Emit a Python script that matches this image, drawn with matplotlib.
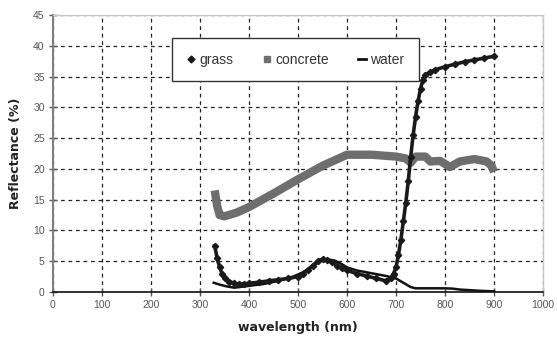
import matplotlib
matplotlib.use("Agg")
import matplotlib.pyplot as plt
from matplotlib.lines import Line2D

# ---- data ----
grass_wl = [330, 335, 340, 345, 350, 360, 370, 380, 390, 400, 420, 440, 460, 480, 500,
            510, 520, 530, 540, 550, 560, 570, 580, 590, 600, 620, 640, 660, 680, 690,
            695, 700, 705, 710, 715, 720, 725, 730, 735, 740, 745, 750, 755, 760, 770,
            780, 800, 820, 840, 860, 880, 900]
grass_val = [7.5, 5.5, 4.0, 3.0, 2.3, 1.7, 1.4, 1.3, 1.3, 1.4, 1.6, 1.8, 2.0, 2.2, 2.5,
             3.0, 3.6, 4.3, 5.0, 5.3, 5.2, 4.8, 4.3, 3.9, 3.5, 3.0, 2.6, 2.2, 1.8, 2.3,
             3.0, 4.0, 6.0, 8.5, 11.5, 14.5, 18.0, 22.0, 25.5, 28.5, 31.0, 33.0, 34.5, 35.3, 35.7,
             36.1, 36.6, 37.0, 37.4, 37.7, 38.0, 38.3]

concrete_wl = [330, 335, 340, 350, 375, 400, 450, 500, 550, 600, 650, 700, 720, 730,
               740, 760, 770, 790, 810, 830, 860, 885, 895, 900]
concrete_val = [16.5, 14.0, 12.5, 12.3, 12.9, 13.8, 16.0, 18.3, 20.5, 22.3, 22.3, 22.0, 21.7, 21.0,
                22.0, 22.0, 21.2, 21.3, 20.3, 21.2, 21.6, 21.2, 20.5, 19.5]

water_wl = [328, 340, 355, 370, 400, 430, 460, 490, 510, 530, 545, 560, 575, 590, 600,
            620, 640, 660, 680, 700, 715, 730, 740, 760, 800, 815, 830, 850, 870, 900]
water_val = [1.5, 1.2, 0.9, 0.7, 1.0, 1.3, 1.8, 2.5, 3.2, 4.2, 5.0, 5.3, 5.1, 4.5, 4.0,
             3.5, 3.2, 2.9, 2.6, 2.2, 1.5, 0.8, 0.6, 0.6, 0.6, 0.55, 0.4, 0.3, 0.2, 0.1]

x_ticks = [0, 100, 200, 300, 400, 500, 600, 700, 800, 900, 1000]
y_ticks = [0, 5, 10, 15, 20, 25, 30, 35, 40, 45]
series_names = ["grass", "concrete", "water"]

# ---- figure ----
plt.rcParams['font.family'] = ['Liberation Sans', 'DejaVu Sans']
fig = plt.figure(figsize=(5.57, 3.37), dpi=100)
ax = fig.add_axes([53/557, 1 - 292/337, 490/557, 277/337])

ax.plot(concrete_wl, concrete_val, color='#6e6e6e', lw=6, solid_capstyle='butt', zorder=3)
ax.plot(water_wl, water_val, color='#111111', lw=1.8, zorder=4)
ax.plot(grass_wl, grass_val, color='#1a1a1a', lw=2.6, marker='D', markersize=3.2,
        markerfacecolor='#1a1a1a', markeredgecolor='#1a1a1a', zorder=5)

ax.set_xlim(0, 1000)
ax.set_ylim(0, 45)
ax.set_xticks(x_ticks)
ax.set_yticks(y_ticks)
ax.tick_params(direction='inout', length=6, width=1, color='#555555',
               labelsize=7.5, labelcolor='#555555', pad=3)
ax.grid(True, color='#222222', linestyle=(0, (3, 3)), lw=0.9)
ax.set_axisbelow(True)

for s in ['top', 'right']:
    ax.spines[s].set_color('#c8c8c8')
    ax.spines[s].set_linewidth(1)
ax.spines['left'].set_color('#808080')
ax.spines['left'].set_linewidth(1.5)
ax.spines['bottom'].set_color('#111111')
ax.spines['bottom'].set_linewidth(1.2)

ax.set_xlabel('wavelength (nm)', fontsize=9, fontweight='bold', family='DejaVu Sans',
              color='#222222', labelpad=8)
ax.set_ylabel('Reflectance (%)', fontsize=9, fontweight='bold', family='DejaVu Sans',
              color='#222222', labelpad=8)

handles = [
    Line2D([], [], marker='D', color='#1a1a1a', linestyle='none', markersize=3.5),
    Line2D([], [], marker='s', color='#707070', linestyle='none', markersize=4),
    Line2D([], [], color='#111111', lw=2, linestyle='-'),
]
leg = ax.legend(handles, series_names, loc='upper left',
                bbox_to_anchor=(119/490, 1 - 68/277, 247/490, 45/277), mode='expand',
                ncol=3, fontsize=10, frameon=True, fancybox=False, framealpha=1,
                edgecolor='#333333', borderpad=1.05, handlelength=0.6, handletextpad=0.3,
                columnspacing=2.0, borderaxespad=0)
leg.get_frame().set_linewidth(1)
for t in leg.get_texts():
    t.set_color('#333333')

fig.savefig('out.png', dpi=100, facecolor='white')
